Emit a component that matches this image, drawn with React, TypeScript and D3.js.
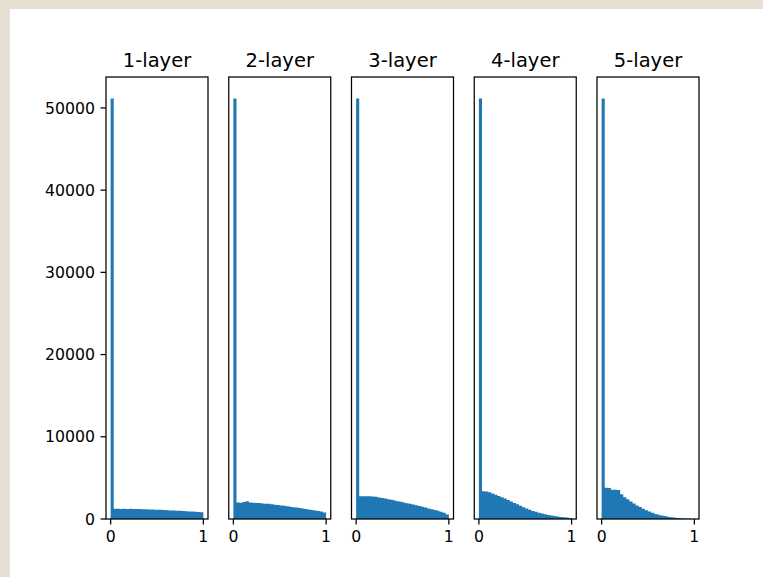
import React from 'react';
import * as d3 from 'd3';

const titles = ['1-layer', '2-layer', '3-layer', '4-layer', '5-layer'];

// 30 histogram bins over [0, 1]
const layer1 = [51150, 1250, 1240, 1230, 1250, 1220, 1240, 1210, 1230, 1210, 1190, 1200, 1170, 1150, 1140, 1120, 1110, 1080, 1070, 1040, 1020, 1000, 990, 960, 940, 920, 900, 880, 860, 830];
const layer2 = [51150, 2020, 1990, 2060, 2160, 2020, 1980, 1950, 1940, 1880, 1850, 1840, 1780, 1730, 1690, 1640, 1600, 1540, 1490, 1440, 1390, 1340, 1280, 1220, 1160, 1100, 1030, 960, 900, 800];
const layer3 = [51150, 2780, 2770, 2770, 2760, 2740, 2700, 2620, 2550, 2480, 2400, 2330, 2250, 2170, 2090, 2000, 1920, 1840, 1750, 1660, 1570, 1480, 1390, 1290, 1190, 1090, 990, 880, 760, 560];
const layer4 = [51150, 3380, 3350, 3250, 3100, 2950, 2800, 2650, 2480, 2300, 2120, 1950, 1780, 1600, 1430, 1270, 1110, 980, 870, 760, 660, 570, 490, 420, 360, 300, 250, 210, 170, 130];
const layer5 = [51150, 3800, 3780, 3560, 3550, 3530, 3000, 2650, 2400, 2120, 1900, 1650, 1450, 1250, 1060, 900, 750, 620, 520, 430, 350, 280, 220, 170, 130, 95, 65, 40, 25, 15];
const layers = [layer1, layer2, layer3, layer4, layer5];

const yTicks = [0, 10000, 20000, 30000, 40000, 50000];
const xTicks = [0, 1];

export default function App() {
  const W = 763, H = 577;
  const panelLeft = [106, 228.75, 351.5, 474.25, 597];
  const pw = 102, top = 77, bottom = 519;
  const y = d3.scaleLinear().domain([0, 53760]).range([bottom, top]);
  const nb = 30;
  const font = 'DejaVu Sans, sans-serif';
  const tickLen = 5.5, pad = 5.5, tickFs = 15.7, titleFs = 19.5;

  return (
    <svg width={W} height={H} style={{ position: 'fixed', left: 0, top: 0 }}>
      <rect x={0} y={0} width={W} height={H} fill="#e6dfd2" />
      <rect x={10} y={9} width={W - 10} height={H - 9} fill="#ffffff" />
      {layers.map((data, p) => {
        const x = d3.scaleLinear().domain([-0.05, 1.05]).range([panelLeft[p], panelLeft[p] + pw]);
        const path = d3.path();
        data.forEach((v, i) => {
          const x0 = x(i / nb), x1 = x((i + 1) / nb);
          path.rect(x0, y(v), x1 - x0, y(0) - y(v));
        });
        return (
          <g key={p}>
            <path d={path.toString()} fill="#1f77b4" />
            <rect x={panelLeft[p]} y={top} width={pw} height={bottom - top} fill="none" stroke="#000" strokeWidth={1.25} />
            {xTicks.map((t) => (
              <g key={t}>
                <line x1={x(t)} x2={x(t)} y1={bottom} y2={bottom + tickLen} stroke="#000" strokeWidth={1.25} />
                <text x={x(t)} y={bottom + tickLen + pad + tickFs * 0.76} textAnchor="middle" fontFamily={font} fontSize={tickFs} fill="#000">{t}</text>
              </g>
            ))}
            {p === 0 && yTicks.map((t) => (
              <g key={t}>
                <line x1={panelLeft[p] - tickLen} x2={panelLeft[p]} y1={y(t)} y2={y(t)} stroke="#000" strokeWidth={1.25} />
                <text x={panelLeft[p] - tickLen - pad} y={y(t)} dy="0.36em" textAnchor="end" fontFamily={font} fontSize={tickFs} fill="#000">{t}</text>
              </g>
            ))}
            <text x={panelLeft[p] + pw / 2} y={top - 10} textAnchor="middle" fontFamily={font} fontSize={titleFs} fill="#000">{titles[p]}</text>
          </g>
        );
      })}
    </svg>
  );
}
